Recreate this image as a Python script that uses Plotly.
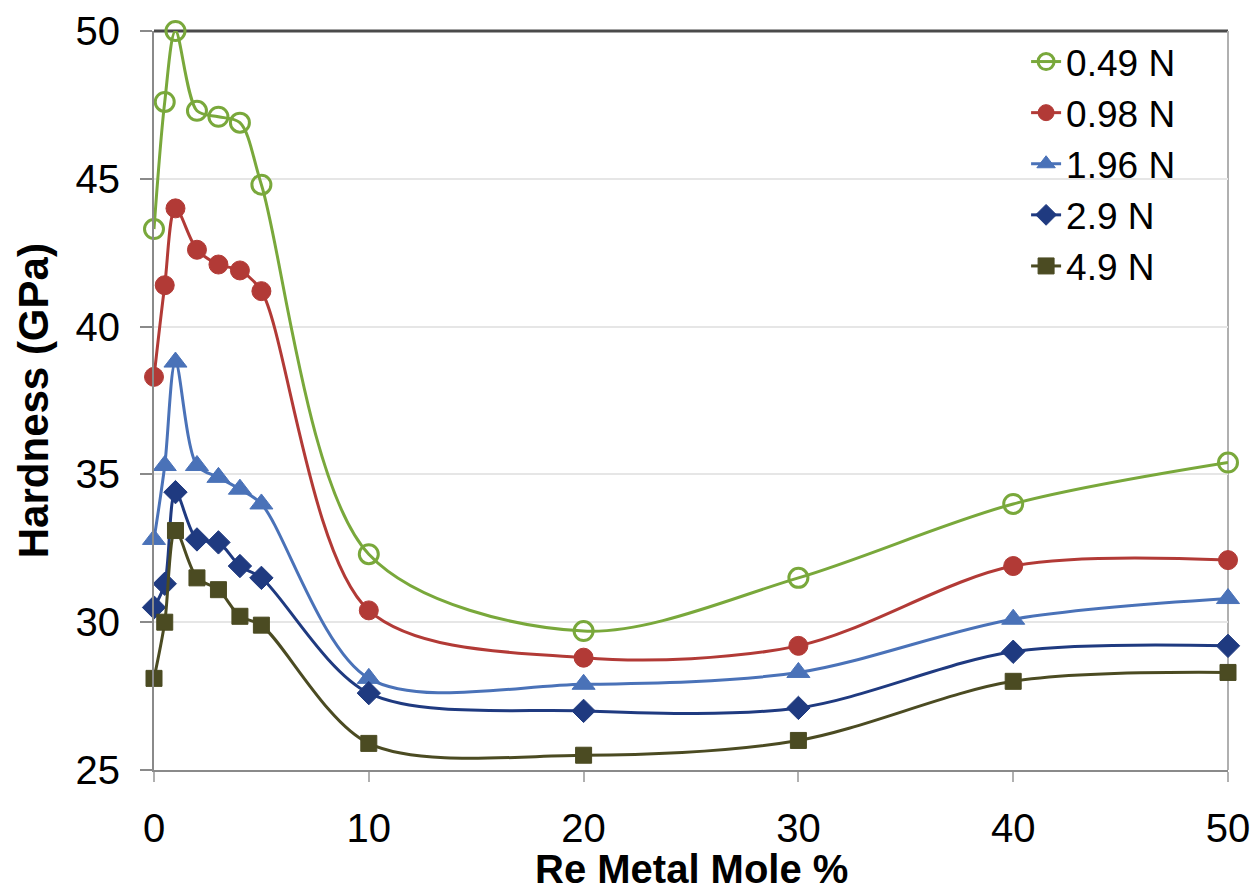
import plotly.graph_objects as go

# Re content (mole %) on the x axis
re_mole_pct = [0, 0.5, 1, 2, 3, 4, 5, 10, 20, 30, 40, 50]

# Hardness (GPa) for each indentation load
hardness_049 = [43.3, 47.6, 50.0, 47.3, 47.1, 46.9, 44.8, 32.3, 29.7, 31.5, 34.0, 35.4]
hardness_098 = [38.3, 41.4, 44.0, 42.6, 42.1, 41.9, 41.2, 30.4, 28.8, 29.2, 31.9, 32.1]
hardness_196 = [32.8, 35.3, 38.8, 35.3, 34.9, 34.5, 34.0, 28.1, 27.9, 28.3, 30.1, 30.8]
hardness_290 = [30.5, 31.3, 34.4, 32.8, 32.7, 31.9, 31.5, 27.6, 27.0, 27.1, 29.0, 29.2]
hardness_490 = [28.1, 30.0, 33.1, 31.5, 31.1, 30.2, 29.9, 25.9, 25.5, 26.0, 28.0, 28.3]

load_labels = ["0.49 N", "0.98 N", "1.96 N", "2.9 N", "4.9 N"]
x_ticks = [0, 10, 20, 30, 40, 50]
y_ticks = [25, 30, 35, 40, 45, 50]

series = [
    (load_labels[0], hardness_049, "#79a83b", "circle-open", 19),
    (load_labels[1], hardness_098, "#b23a36", "circle", 19),
    (load_labels[2], hardness_196, "#4a72b8", "triangle-up", 20),
    (load_labels[3], hardness_290, "#1f3a80", "diamond", 18),
    (load_labels[4], hardness_490, "#4b4b22", "square", 16),
]

fig = go.Figure()
for name, ys, color, symbol, size in series:
    edge = 3 if symbol == "circle-open" else 1
    fig.add_trace(go.Scatter(
        x=re_mole_pct, y=ys, name=name, mode="lines+markers",
        line=dict(color=color, width=3, shape="spline", smoothing=0.9),
        marker=dict(symbol=symbol, size=size, color=color,
                    line=dict(width=edge, color=color)),
        cliponaxis=False,
    ))

font_family = "Liberation Sans, Arial, sans-serif"

fig.update_layout(
    width=1257, height=895,
    margin=dict(l=154, r=29, t=31, b=125),
    paper_bgcolor="white", plot_bgcolor="white",
    font=dict(family=font_family, color="black", size=40),
    showlegend=True,
    legend=dict(
        x=0.812, y=1.0, xanchor="left", yanchor="top",
        font=dict(size=37, family=font_family), bgcolor="rgba(0,0,0,0)",
        tracegroupgap=0, itemwidth=30,
    ),
    xaxis=dict(
        range=[0, 50], tickvals=x_ticks, ticks="outside", ticklen=10,
        tickcolor="#b0b0b0", tickwidth=2, showgrid=False, zeroline=False,
        showline=True, linecolor="#8a8a8a", linewidth=2, automargin=False,
        tickfont=dict(size=40), ticklabelstandoff=12,
    ),
    yaxis=dict(
        range=[25, 50], tickvals=y_ticks, ticks="outside", ticklen=12,
        tickcolor="#8a8a8a", tickwidth=2, showgrid=True, gridcolor="#e6e6e6",
        gridwidth=2, zeroline=False, showline=True, linecolor="#8a8a8a",
        linewidth=2, automargin=False, tickfont=dict(size=40), ticklabelstandoff=12,
    ),
    annotations=[
        dict(text="<b>Re Metal Mole %</b>", xref="paper", yref="paper",
             x=0.5, y=-0.134, xanchor="center", yanchor="middle",
             showarrow=False, font=dict(size=40)),
        dict(text="<b>Hardness (GPa)</b>", xref="paper", yref="paper",
             x=-0.112, y=0.5, xanchor="center", yanchor="middle", textangle=-90,
             showarrow=False, font=dict(size=42)),
    ],
)

# Frame: dark top edge and light right edge
fig.add_shape(type="line", xref="paper", yref="paper", x0=0, x1=1, y0=1, y1=1,
              line=dict(color="#4a4a4a", width=3), layer="below")
fig.add_shape(type="line", xref="paper", yref="paper", x0=1, x1=1, y0=0, y1=1,
              line=dict(color="#b0b0b0", width=2), layer="below")

fig.write_html("out.html")
